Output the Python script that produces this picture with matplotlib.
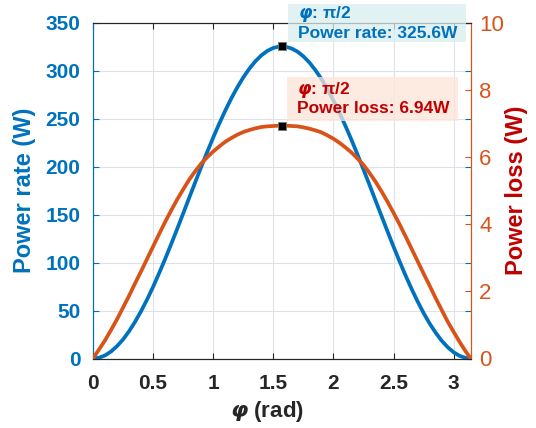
import numpy as np
import matplotlib.pyplot as plt
from matplotlib.patches import Rectangle

plt.rcParams['font.family'] = ['Liberation Sans', 'DejaVu Sans']
plt.rcParams['mathtext.fontset'] = 'dejavusans'

# values
phi = [0.0, 0.05, 0.1, 0.15, 0.2, 0.25, 0.3, 0.35, 0.4, 0.45, 0.5, 0.55, 0.6, 0.65,
       0.7, 0.75, 0.8, 0.85, 0.9, 0.95, 1.0, 1.05, 1.1, 1.15, 1.2, 1.25, 1.3, 1.35,
       1.4, 1.45, 1.5, 1.55,
       np.pi / 2,
       1.6, 1.65, 1.7, 1.75, 1.8, 1.85, 1.9, 1.95, 2.0, 2.05, 2.1, 2.15, 2.2, 2.25,
       2.3, 2.35, 2.4, 2.45, 2.5, 2.55, 2.6, 2.65, 2.7, 2.75, 2.8, 2.85, 2.9, 2.95,
       3.0, 3.05, 3.1,
       np.pi]
power_rate = [0, 0.8, 3.2, 7.3, 12.9, 19.9, 28.4, 38.3, 49.4, 61.6, 74.8, 89.0, 103.8,
              119.3, 135.1, 151.3, 167.6, 183.8, 199.8, 215.4, 230.6, 245.0, 258.6,
              271.3, 282.8, 293.2, 302.3, 310.0, 316.2, 320.9, 324.0, 325.5,
              325.6,
              325.3, 323.5, 320.2, 315.2, 308.8, 300.8, 291.6, 281.0, 269.2, 256.4,
              242.6, 228.1, 212.8, 197.1, 181.1, 164.8, 148.6, 132.5, 116.6, 101.3,
              86.5, 72.6, 59.5, 47.4, 36.5, 26.9, 18.6, 11.8, 6.5, 2.7, 0.6,
              0]
power_loss = [0, 0.27, 0.54, 0.85, 1.17, 1.52, 1.87, 2.24, 2.60, 2.97, 3.34, 3.71,
              4.07, 4.41, 4.74, 5.04, 5.33, 5.58, 5.81, 6.00, 6.17, 6.32, 6.46, 6.57,
              6.67, 6.75, 6.81, 6.86, 6.90, 6.92, 6.93, 6.94,
              6.94,
              6.94, 6.93, 6.92, 6.89, 6.85, 6.80, 6.74, 6.65, 6.55, 6.43, 6.29, 6.14,
              5.96, 5.77, 5.53, 5.27, 4.98, 4.67, 4.34, 4.00, 3.64, 3.27, 2.90, 2.53,
              2.17, 1.80, 1.45, 1.10, 0.79, 0.49, 0.21,
              0]
peak_phi = np.pi / 2
peak_rate = 325.6
peak_loss = 6.94

BLUE = '#0072BD'
ORANGE = '#D95319'
DARKRED = '#C00000'

W, H = 536, 428
fig = plt.figure(figsize=(W / 100, H / 100), dpi=100)
ax = fig.add_axes([93 / W, 1 - 358.5 / H, 377.7 / W, 335.5 / H])
ax2 = ax.twinx()

ax.plot(phi, power_rate, color=BLUE, lw=2.7, zorder=3, solid_joinstyle='round')
ax2.plot(phi, power_loss, color=ORANGE, lw=2.7, zorder=3, solid_joinstyle='round')
ax.plot(peak_phi, peak_rate, 's', color='black', ms=6, mec='#777777', mew=0.6, zorder=5)
ax2.plot(peak_phi, peak_loss, 's', color='black', ms=6, mec='#777777', mew=0.6, zorder=5)

ax.set_xlim(0, np.pi)
ax.set_ylim(0, 350)
ax2.set_ylim(0, 10)
ax.set_xticks([0, 0.5, 1, 1.5, 2, 2.5, 3])
ax.set_xticklabels(['0', '0.5', '1', '1.5', '2', '2.5', '3'])
ax.set_yticks(range(0, 351, 50))
ax2.set_yticks(range(0, 11, 2))

ax.grid(True, color='#DFE2EA', lw=0.8)
ax.set_axisbelow(True)

ax.tick_params(axis='x', direction='in', top=True, length=4, width=0.8, colors='#262626',
               labelsize=15, pad=11)
ax.tick_params(axis='y', direction='in', right=True, length=4, width=0.8, colors=BLUE,
               labelsize=15, pad=9)
ax2.tick_params(axis='y', direction='in', length=4, width=0.8, colors=ORANGE,
                labelsize=16, pad=6)
for lab in ax.get_xticklabels() + ax.get_yticklabels():
    lab.set_fontweight('bold')

for a in (ax, ax2):
    a.spines['left'].set_color(BLUE)
    a.spines['right'].set_color(ORANGE)
    a.spines['top'].set_color('#262626')
    a.spines['bottom'].set_color('#262626')

ax.set_ylabel('Power rate (W)', color=BLUE, fontsize=17, fontweight='bold')
ax.yaxis.set_label_coords(-0.15, 0.5)
ax2.set_ylabel('Power loss (W)', color=DARKRED, fontsize=17, fontweight='bold')
ax2.yaxis.set_label_coords(1.09, 0.5)
ax.set_xlabel(r'$\mathbfit{\varphi}$ (rad)', fontsize=16, fontweight='bold', color='#262626')
ax.xaxis.set_label_coords(0.46, -0.12)

# data tips
def fig_rect(x0, y0, x1, y1, color):
    fig.add_artist(Rectangle((x0 / W, 1 - y1 / H), (x1 - x0) / W, (y1 - y0) / H,
                             transform=fig.transFigure, facecolor=color, edgecolor='none',
                             alpha=0.75, zorder=10))

fig_rect(288, 4, 466, 42, '#D9EEF0')
fig_rect(287, 77, 458, 121, '#FDE4D8')

tip_kw = dict(fontsize=12.5, fontweight='bold', va='center', ha='left', zorder=11)
fig.text(298 / W, 1 - 14 / H, r'$\mathbfit{\varphi}$: π/2', color=BLUE, **tip_kw)
fig.text(298 / W, 1 - 33 / H, 'Power rate: 325.6W', color=BLUE, **tip_kw)
fig.text(297 / W, 1 - 89.5 / H, r'$\mathbfit{\varphi}$: π/2', color=DARKRED, **tip_kw)
fig.text(297 / W, 1 - 108.5 / H, 'Power loss: 6.94W', color=DARKRED, **tip_kw)

fig.savefig('out.png', dpi=100)
